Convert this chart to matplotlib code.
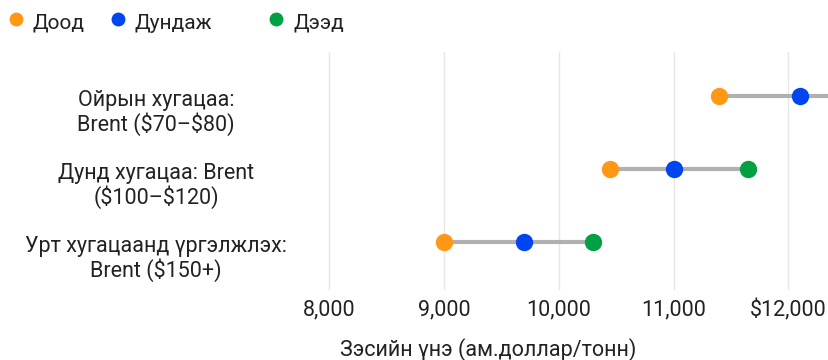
import matplotlib
matplotlib.use("Agg")
import matplotlib.pyplot as plt
import matplotlib.transforms as mtransforms
from matplotlib.lines import Line2D

plt.rcParams['font.family'] = ['Roboto', 'DejaVu Sans']
plt.rcParams['text.parse_math'] = False

# scenario rows, top to bottom
scenarios = ["Ойрын хугацаа:\nBrent ($70–$80)",
             "Дунд хугацаа: Brent\n($100–$120)",
             "Урт хугацаанд үргэлжлэх:\nBrent ($150+)"]
low = [11400, 10450, 9000]
mid = [12100, 11000, 9700]
high = [12700, 11650, 10300]

series_names = ["Доод", "Дундаж", "Дээд"]
colors = ["#FF9814", "#0045F0", "#00A043"]

xticks = [8000, 9000, 10000, 11000, 12000]
xticklabels = ["8,000", "9,000", "10,000", "11,000", "$12,000"]

text_color = "#222222"
fs = 15.5

fig = plt.figure(figsize=(8.29, 3.6), dpi=100)
ax = fig.add_axes([303 / 829, 1 - 290 / 360, 1 - 303 / 829, (290 - 52) / 360])

rows = list(range(len(scenarios)))
for y, lo, hi in zip(rows, low, high):
    ax.plot([lo, hi], [y, y], color="#B0B0B0", lw=3, zorder=2, solid_capstyle="butt")
for vals, c in zip([low, mid, high], colors):
    ax.plot(vals, rows, "o", color=c, ms=12.5, mec="none", zorder=3)

ax.set_xlim(7770, 12355)
ax.set_ylim(2.66, -0.6)
ax.set_xticks(xticks)
ax.set_xticklabels(xticklabels, fontsize=fs, color=text_color)
ax.set_yticks([])
ax.tick_params(axis="x", length=0, pad=7)
ax.grid(axis="x", color="#E6E6E6", lw=1)
ax.set_axisbelow(True)
for s in ax.spines.values():
    s.set_visible(False)

# row labels, centred in the left margin and sitting a little below each row
trans = mtransforms.blended_transform_factory(fig.transFigure, ax.transData)
trans = mtransforms.offset_copy(trans, fig=fig, x=0, y=-12.5, units="points")
for y, label in zip(rows, scenarios):
    ax.text(156 / 829, y, label, transform=trans, ha="center", va="center",
            multialignment="center", fontsize=fs, color=text_color,
            linespacing=1.1, clip_on=False)

fig.text(488 / 829, 1 - 350 / 360, "Зэсийн үнэ (ам.доллар/тонн)",
         ha="center", va="center", fontsize=fs, color=text_color)

# legend row at the top
legend_x = [16, 118, 276]
for x0, name, c in zip(legend_x, series_names, colors):
    fig.add_artist(Line2D([x0 / 829], [1 - 19 / 360], marker="o", ms=10,
                          color=c, mec="none", transform=fig.transFigure))
    fig.text((x0 + 17) / 829, 1 - 23.5 / 360, name, ha="left", va="center",
             fontsize=15, color=text_color)

fig.savefig("out.png", dpi=100, facecolor="white")
